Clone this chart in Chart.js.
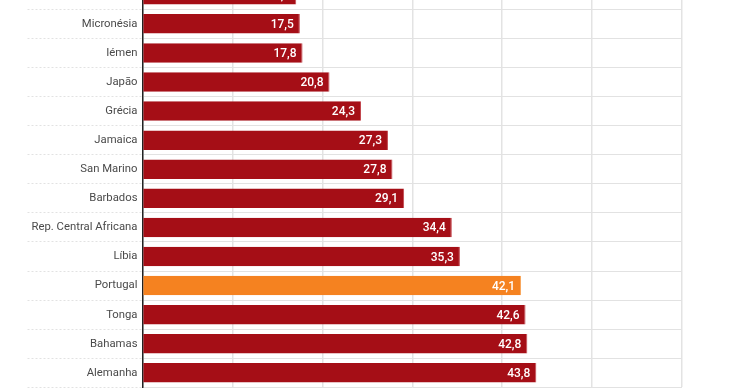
<!DOCTYPE html>
<html lang="pt">
<head>
  <meta charset="UTF-8" />
  <title>Gráfico</title>
  <script src="https://cdn.jsdelivr.net/npm/chart.js"></script>
  <style>
    html, body { margin: 0; padding: 0; background: #fff; overflow: hidden; }
    body { width: 740px; height: 389px; position: relative; }
    #wrap { position: absolute; left: 0; top: -40px; width: 740px; height: 458px; }
  </style>
</head>
<body>
  <div id="wrap"><canvas id="chart"></canvas></div>

  <script>
    // países (o primeiro fica cortado no topo)
    const paises = ['', 'Micronésia', 'Iémen', 'Japão', 'Grécia', 'Jamaica', 'San Marino', 'Barbados',
      'Rep. Central Africana', 'Líbia', 'Portugal', 'Tonga', 'Bahamas', 'Alemanha'];
    const valores = [17.1, 17.5, 17.8, 20.8, 24.3, 27.3, 27.8, 29.1, 34.4, 35.3, 42.1, 42.6, 42.8, 43.8];
    const destaque = 'Portugal';
    const ticksX = [0, 10, 20, 30, 40, 50, 60];

    const vermelho = '#a50e16';
    const laranja = '#f58220';

    const rotulos = {
      id: 'rotulos',
      afterDatasetsDraw(chart) {
        const ctx = chart.ctx;
        const meta = chart.getDatasetMeta(0);
        ctx.save();
        ctx.font = '500 12px Roboto';
        ctx.fillStyle = '#fff';
        ctx.textAlign = 'right';
        ctx.textBaseline = 'middle';
        meta.data.forEach((bar, i) => {
          ctx.fillText(valores[i].toFixed(1).replace('.', ','), bar.x - 6, bar.y + 1);
        });
        ctx.restore();
      }
    };

    new Chart(document.getElementById('chart'), {
      type: 'bar',
      data: {
        labels: paises,
        datasets: [{
          data: valores,
          backgroundColor: paises.map(p => p === destaque ? laranja : vermelho),
          borderColor: paises.map(p => p === destaque ? '#f8a55a' : '#c2474e'),
          borderWidth: { top: 0, bottom: 0, left: 0, right: 1 },
          borderSkipped: false,
          categoryPercentage: 1,
          barPercentage: 0.67
        }]
      },
      options: {
        indexAxis: 'y',
        responsive: true,
        maintainAspectRatio: false,
        animation: false,
        layout: { padding: { top: 20.2, right: 58, left: 0, bottom: 0 } },
        plugins: { legend: { display: false }, tooltip: { enabled: false } },
        scales: {
          x: {
            min: 0,
            max: 60,
            afterBuildTicks: s => { s.ticks = ticksX.map(v => ({ value: v })); },
            afterFit: s => { s.height = 30.6; },
            grid: { color: '#e3e3e3', lineWidth: 1.5, drawTicks: false },
            border: { display: false },
            ticks: { color: '#555', font: { family: 'Roboto', size: 12 } }
          },
          y: {
            afterFit: s => { s.width = 142.5; },
            grid: {
              color: '#e2e2e2',
              lineWidth: 1,
              offset: true,
              borderDash: [2, 2],
              tickBorderDash: [2, 2],
              tickLength: 115
            },
            border: { display: true, color: '#222', width: 1.5 },
            ticks: {
              color: '#4a4a4a',
              padding: -110,
              font: { family: 'Roboto', size: 11.3 }
            }
          }
        }
      },
      plugins: [rotulos]
    });
  </script>
</body>
</html>
